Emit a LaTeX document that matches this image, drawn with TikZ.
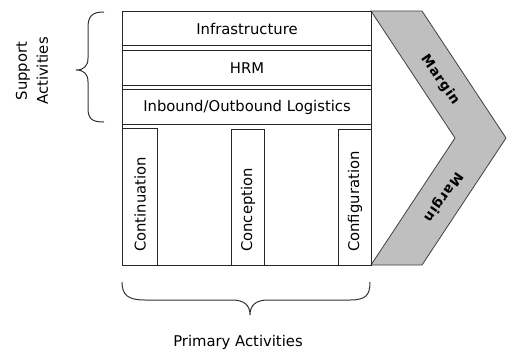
\documentclass[tikz,border=0pt]{standalone}
\usepackage{fontspec}
\setmainfont{DejaVu Sans}
\begin{document}
\begin{tikzpicture}[x=1pt,y=-1pt,
  box/.style={draw=black!85, line width=1pt, inner sep=0pt, anchor=north west},
  lblfont/.style={font=\fontsize{14.8}{21}\selectfont},
  vlbl/.style={lblfont, inner sep=0pt, rotate=90, anchor=west},
  bracepath/.style={draw=black!80, line width=1pt},
  marginlbl/.style={font=\fontsize{13.5}{15}\selectfont\bfseries\addfontfeature{LetterSpace=6}, inner sep=0pt},
  chevron/.style={draw=black!75, line width=0.8pt, fill=black!25}]
\fill[white] (0,0) rectangle (508,351);
\useasboundingbox (0,0) rectangle (508,351);
% chevron (margin)
\draw[chevron] (371,11) -- (422,11) -- (506,138) -- (422,265) -- (371,265) -- (455,138) -- cycle;
\node[marginlbl, rotate=-55] (m1) at (440,80) {Margin};
\node[marginlbl, rotate=-125] (m2) at (443,197) {Margin};
% outer frame
\node[box, minimum width=249pt, minimum height=254pt] (outer) at (122,11) {};
% support activities boxes
\node[box, lblfont, minimum width=249pt, minimum height=34pt] (infra) at (122,11) {Infrastructure};
\node[box, lblfont, minimum width=249pt, minimum height=35pt] (hrm) at (122,50) {HRM};
\node[box, lblfont, minimum width=249pt, minimum height=35pt] (logi) at (122,89) {Inbound/Outbound Logistics};
% primary activities boxes
\node[box, minimum width=35pt, minimum height=137pt] (cont) at (122,128) {};
\node[box, minimum width=33pt, minimum height=136pt] (conc) at (231,129) {};
\node[box, minimum width=33pt, minimum height=136pt] (conf) at (338,129) {};
\node[vlbl] (tcont) at (140,252) {Continuation};
\node[vlbl] (tconc) at (248,252) {Conception};
\node[vlbl] (tconf) at (355,252) {Configuration};
% braces
\draw[bracepath] (104,12) .. controls (92,12) and (88,16) .. (88,28) -- (88,58)
  .. controls (88,66) and (84,70) .. (76,70) .. controls (84,70) and (88,74) .. (88,82)
  -- (88,108) .. controls (88,119) and (92,122) .. (104,122);
\draw[bracepath] (122,282) .. controls (122,295) and (128,300) .. (145,300) -- (232,300)
  .. controls (244,300) and (250,305) .. (250,315) .. controls (250,305) and (256,300) .. (268,300)
  -- (350,300) .. controls (366,300) and (370,295) .. (370,282);
\node[lblfont, inner sep=0pt, rotate=90, align=center] (sup) at (32,71) {Support\\Activities};
\node[lblfont, inner sep=0pt] (prim) at (238,342) {Primary Activities};
\end{tikzpicture}
\end{document}
